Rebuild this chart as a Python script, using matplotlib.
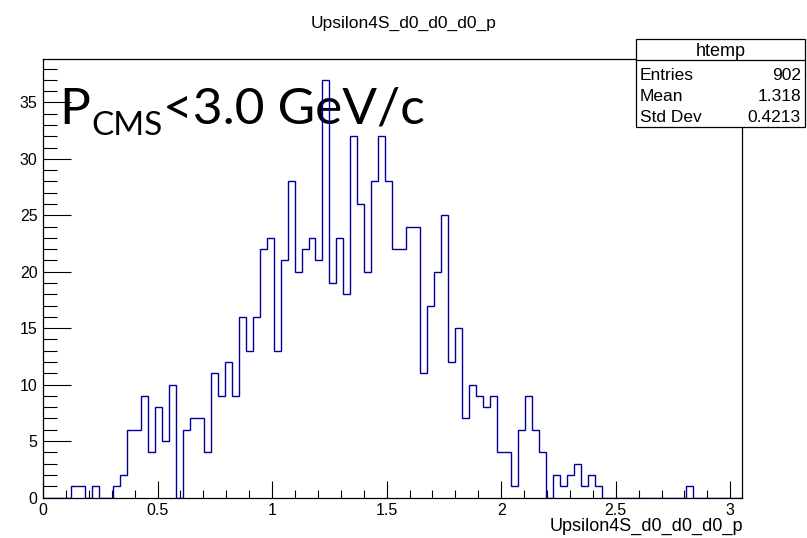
import numpy as np
import matplotlib
matplotlib.use("Agg")
import matplotlib.pyplot as plt
from matplotlib.ticker import MultipleLocator, FixedLocator
from matplotlib.patches import Rectangle

# histogram "htemp": 100 bins from 0 to 3.05
X_MIN, X_MAX, N_BINS = 0.0, 3.05, 100
counts = [0, 0, 0, 0, 1, 1, 0, 1, 0, 0,
          1, 2, 6, 6, 9, 4, 8, 5, 10, 0,
          6, 7, 7, 4, 11, 9, 12, 9, 16, 13,
          16, 22, 23, 13, 21, 28, 20, 22, 23, 21,
          37, 19, 23, 18, 32, 26, 20, 28, 32, 28,
          22, 22, 24, 24, 11, 17, 20, 25, 12, 15,
          7, 10, 9, 8, 9, 4, 4, 1, 6, 9,
          6, 4, 0, 2, 1, 2, 3, 1, 2, 1,
          0, 0, 0, 0, 0, 0, 0, 0, 0, 0,
          0, 0, 1, 0, 0, 0, 0, 0, 0, 0]
stats_labels = ["Entries", "Mean", "Std Dev"]
stats_values = ["902", "1.318", "0.4213"]
x_ticks = [0, 0.5, 1, 1.5, 2, 2.5, 3]
x_ticklabels = ["0", "0.5", "1", "1.5", "2", "2.5", "3"]
y_ticks = [0, 5, 10, 15, 20, 25, 30, 35]

W, H = 807, 538
plt.rcParams['font.family'] = ['Liberation Sans', 'DejaVu Sans']


def fx(px):
    return px / W


def fy(py):
    return 1 - py / H


fig = plt.figure(figsize=(W / 100, H / 100), dpi=100)
ax = fig.add_axes([fx(43), fy(497.5), (741.7 - 43) / W, (497.5 - 59) / H])

edges = np.linspace(X_MIN, X_MAX, N_BINS + 1)
ax.stairs(counts, edges, color='#000099', linewidth=1.0, baseline=0, zorder=3)

ax.set_xlim(X_MIN, X_MAX)
ax.set_ylim(0, max(counts) * 1.05)

ax.xaxis.set_major_locator(FixedLocator(x_ticks))
ax.set_xticklabels(x_ticklabels)
ax.xaxis.set_minor_locator(MultipleLocator(0.1))
ax.yaxis.set_major_locator(FixedLocator(y_ticks))
ax.yaxis.set_minor_locator(MultipleLocator(1))

ax.tick_params(axis='x', which='major', direction='in', length=12, width=0.8,
               labelsize=11.5, pad=4)
ax.tick_params(axis='x', which='minor', direction='in', length=6, width=0.8)
ax.tick_params(axis='y', which='major', direction='in', length=20, width=0.8,
               labelsize=11.5, pad=4)
ax.tick_params(axis='y', which='minor', direction='in', length=10, width=0.8)
for s in ax.spines.values():
    s.set_linewidth(0.9)

# axis title, right aligned at end of axis
fig.text(fx(743), fy(531), "Upsilon4S_d0_d0_d0_p", ha='right', va='baseline',
         fontsize=13)

# pad title
fig.text(fx(404), fy(28), "Upsilon4S_d0_d0_d0_p", ha='center', va='baseline',
         fontsize=12.5)

# stats box
box_l, box_r, box_t, box_b, head = 636, 805, 39, 127, 60
fig.patches.append(Rectangle((fx(box_l), fy(box_b)), (box_r - box_l) / W,
                             (box_b - box_t) / H, transform=fig.transFigure,
                             facecolor='white', edgecolor='black', linewidth=0.9,
                             zorder=5))
fig.add_artist(plt.Line2D([fx(box_l), fx(box_r)], [fy(head), fy(head)],
                          transform=fig.transFigure, color='black', linewidth=0.9,
                          zorder=6))
fig.text(fx((box_l + box_r) / 2), fy(56), "htemp", ha='center', va='baseline',
         fontsize=13, zorder=7)
for i, (lab, val) in enumerate(zip(stats_labels, stats_values)):
    base = 79.5 + i * 21.5
    fig.text(fx(box_l + 4), fy(base), lab, ha='left', va='baseline', fontsize=12.5,
             zorder=7)
    fig.text(fx(box_r - 4), fy(base), val, ha='right', va='baseline', fontsize=12.5,
             zorder=7)

# big label P_CMS<3.0 GeV/c, pieces placed one after the other, behind the histogram
big = ['Lato', 'DejaVu Sans']
renderer = fig.canvas.get_renderer()
t1 = ax.text(fx(59), fy(124), "P", fontsize=37, family=big,
             va='baseline', transform=fig.transFigure, zorder=1)
x_end = t1.get_window_extent(renderer).x1
t2 = ax.text(x_end / W + 1 / W, fy(135), "CMS", fontsize=24, family=big,
             va='baseline', transform=fig.transFigure, zorder=1)
x_end = t2.get_window_extent(renderer).x1
ax.text(x_end / W + 1 / W, fy(124), "<3.0 GeV/c", fontsize=37, family=big,
        va='baseline', transform=fig.transFigure, zorder=1)

fig.savefig("out.png", dpi=100)
